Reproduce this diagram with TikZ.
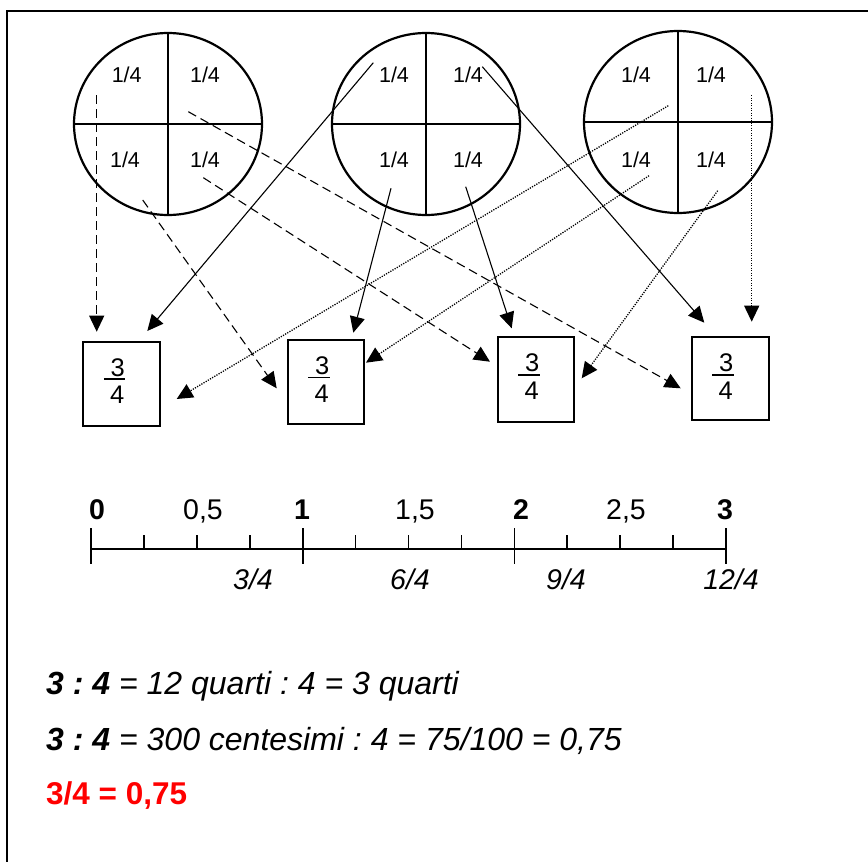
\documentclass[tikz,border=0pt]{standalone}
\usepackage{fontspec}
\setmainfont{Liberation Sans}
\usetikzlibrary{arrows.meta,shapes.geometric}
\begin{document}
\frenchspacing
\begin{tikzpicture}[x=1pt,y=-1pt,
  circ/.style={draw,ellipse,line width=2.2pt,minimum width=188pt,minimum height=182pt,inner sep=0pt,outer sep=0pt},
  cross/.style={line width=2.2pt},
  qlab/.style={anchor=base,inner sep=0pt,font=\fontsize{21.5}{25}\selectfont},
  fbox/.style={draw,line width=1.8pt,anchor=north west,inner sep=0pt,outer sep=0pt},
  fdig/.style={anchor=base,inner sep=0pt,font=\fontsize{25.5}{30}\selectfont},
  fbar/.style={line width=1.8pt},
  tipk/.style={-{Triangle[length=16pt,width=15pt]}},
  solidarr/.style={tipk,line width=1.1pt},
  dasharr/.style={tipk,line width=1.1pt,dash pattern=on 9pt off 5pt},
  dotarr/.style={tipk,line width=1.3pt,dash pattern=on 1.2pt off 1.3pt},
  nlab/.style={anchor=base,inner sep=0pt,font=\fontsize{28.5}{33}\selectfont},
  nbold/.style={nlab,font=\fontsize{28.5}{33}\selectfont\bfseries},
  nital/.style={nlab,font=\fontsize{28.5}{33}\selectfont\itshape},
  txt/.style={anchor=base west,inner sep=0pt,font=\fontsize{32}{36}\selectfont},
  axis/.style={line width=1.6pt}
]
\useasboundingbox (0,0) rectangle (868,862);
% frame
\draw[line width=1.5pt] (7,870) -- (7,11) -- (875,11);

% circles
\node[circ] (c1) at (168,124) {};
\node[circ] (c2) at (426,124) {};
\node[circ] (c3) at (678,122) {};
\foreach \c in {c1,c2,c3}{
  \draw[cross] (\c.north) -- (\c.south);
  \draw[cross] (\c.west) -- (\c.east);
}
% quarter labels
\node[qlab] (q1a) at (126.7,82) {1/4};
\node[qlab] (q1b) at (205,82) {1/4};
\node[qlab] (q1c) at (125,167) {1/4};
\node[qlab] (q1d) at (205,167) {1/4};
\node[qlab] (q2a) at (394,82) {1/4};
\node[qlab] (q2b) at (468,82) {1/4};
\node[qlab] (q2c) at (394,167) {1/4};
\node[qlab] (q2d) at (468,167) {1/4};
\node[qlab] (q3a) at (636,82) {1/4};
\node[qlab] (q3b) at (711,82) {1/4};
\node[qlab] (q3c) at (636,167) {1/4};
\node[qlab] (q3d) at (711,167) {1/4};

% boxes with fractions
\foreach \n/\x/\y/\w/\h in {b1/83.3/341.7/76.7/84.3, b2/287.7/340/76.3/84, b3/497.7/337.3/76.6/85, b4/691.7/337.3/77.3/83}{
  \node[fbox,minimum width=\w pt,minimum height=\h pt] (\n) at (\x,\y) {};
  \node[fdig] (\n n) at (\x+34.5,\y+34.5) {3};
  \node[fdig] (\n d) at (\x+34,\y+62) {4};
  \draw[fbar] (\x+20.5,\y+37.5) -- (\x+42,\y+37.5);
}

% arrow end points
\coordinate (d1s) at (96.7,95);    \coordinate (d1e) at (96.7,331.7);
\coordinate (d2s) at (142.7,200);  \coordinate (d2e) at (276.7,388.3);
\coordinate (d3s) at (188.3,111.7);\coordinate (d3e) at (680.7,388.3);
\coordinate (d4s) at (203.3,177.7);\coordinate (d4e) at (490,361.7);
\coordinate (s1s) at (373.3,62.7); \coordinate (s1e) at (147.3,331);
\coordinate (s2s) at (391,188.3);  \coordinate (s2e) at (353.3,332.7);
\coordinate (s3s) at (465.7,186.7);\coordinate (s3e) at (511.7,328.3);
\coordinate (s4s) at (482.3,66.7); \coordinate (s4e) at (704.3,322.7);
\coordinate (t1s) at (668.3,105.7);\coordinate (t1e) at (176.7,399);
\coordinate (t2s) at (649,175.7);  \coordinate (t2e) at (366,362.7);
\coordinate (t3s) at (717.7,190.7);\coordinate (t3e) at (581.7,378.3);
\coordinate (t4s) at (751.7,95);   \coordinate (t4e) at (751.7,321.7);

\foreach \a in {d1,d2,d3,d4}{ \draw[dasharr] (\a s) -- (\a e); }
\foreach \a in {s1,s2,s3,s4}{ \draw[solidarr] (\a s) -- (\a e); }
\foreach \a in {t1,t2,t3,t4}{ \draw[dotarr] (\a s) -- (\a e); }

% number line
\draw[axis] (91,549) -- (726,549);
\foreach \x in {91,302.7,514.3,726}{ \draw[axis] (\x,528) -- (\x,564); }
\foreach \s in {91,302.7,514.3}{
  \foreach \i in {1,2,3}{ \draw[axis] (\s+52.9*\i,535) -- (\s+52.9*\i,549); }
}
\node[nbold] (n0) at (97,519) {0};
\node[nlab] (n05) at (203,519) {0,5};
\node[nbold] (n1) at (302,519) {1};
\node[nlab] (n15) at (415,519) {1,5};
\node[nbold] (n2) at (521,519) {2};
\node[nlab] (n25) at (626,519) {2,5};
\node[nbold] (n3) at (725,519) {3};
\node[nital] (f3) at (253,589) {3/4};
\node[nital] (f6) at (410,589) {6/4};
\node[nital] (f9) at (566,589) {9/4};
\node[nital] (f12) at (731,589) {12/4};

% equations
\node[txt] (eq1) at (46,694) {\textbf{\textit{3 : 4}}\textit{ = 12 quarti : 4 = 3 quarti}};
\node[txt] (eq2) at (46,750) {\textbf{\textit{3 : 4}}\textit{ = 300 centesimi : 4 = 75/100 = 0,75}};
\node[txt,text=red,font=\fontsize{31.5}{36}\selectfont\bfseries] (eq3) at (46,804) {3/4 = 0,75};
\end{tikzpicture}
\end{document}
